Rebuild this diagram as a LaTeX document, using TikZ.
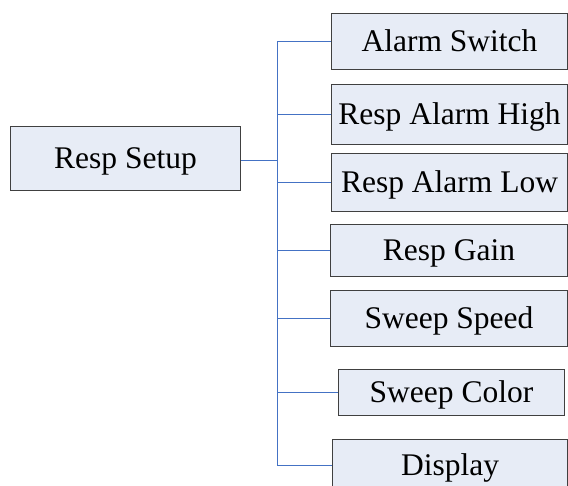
\documentclass[tikz,border=0pt]{standalone}
\usepackage{fontspec}
\setmainfont{Liberation Serif}
\newfontfamily\tnr{Liberation Serif}
\definecolor{boxfill}{HTML}{E7ECF6}
\definecolor{boxline}{HTML}{404040}
\definecolor{wire}{HTML}{4472C4}
\begin{document}
\begin{tikzpicture}[x=1pt,y=-1pt,
  menubox/.style={draw=boxline,fill=boxfill,line width=1pt,inner sep=0pt,
    text height=20pt,text depth=0pt,
    font=\tnr\fontsize{31.5}{36}\selectfont},
  wireline/.style={draw=wire,line width=1pt}]
\clip (0,0) rectangle (568,486);
\node[menubox,minimum width=230,minimum height=64] (root) at (125.5,158.5) {Resp Setup};
\node[menubox,minimum width=236,minimum height=56] (c1) at (449.5,41.5) {Alarm Switch};
\node[menubox,minimum width=236,minimum height=60] (c2) at (449.5,114.5) {Resp Alarm High};
\node[menubox,minimum width=236,minimum height=58] (c3) at (449.5,182.5) {Resp Alarm Low};
\node[menubox,minimum width=237,minimum height=52] (c4) at (449,250.5) {Resp Gain};
\node[menubox,minimum width=237,minimum height=56] (c5) at (449,318.5) {Sweep Speed};
\node[menubox,minimum width=226,minimum height=46] (c6) at (451.5,392.5) {Sweep Color};
\node[menubox,minimum width=235,minimum height=52] (c7) at (450,465.5) {Display};
\coordinate (j) at (277.5,160.5);
\draw[wireline] (root.east |- j) -- (j);
\foreach \c in {c1,c2,c3,c4,c5,c6,c7}{
  \draw[wireline] (j) |- (\c.west);
}
\end{tikzpicture}
\end{document}
